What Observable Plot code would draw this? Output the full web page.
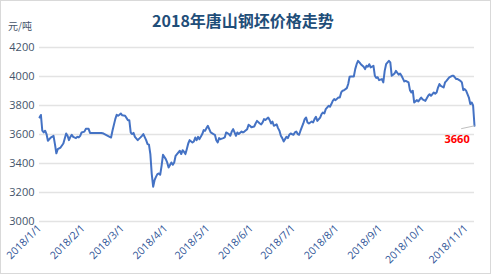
<!DOCTYPE html>
<html>
<head>
<meta charset="utf-8">
<script src="https://cdn.jsdelivr.net/npm/d3@7"></script>
<script src="https://cdn.jsdelivr.net/npm/@observablehq/plot@0.6"></script>
<style>
html, body { margin: 0; padding: 0; background: #fff; }
#wrap { position: relative; width: 493px; height: 274px; overflow: hidden; }
#frame { position: absolute; left: 0; top: 0; width: 489px; height: 272px; border: 1px solid #d9d9d9; box-sizing: content-box; }
#title { position: absolute; left: 0; width: 486px; top: 10px; text-align: center; font: bold 16px "Noto Sans CJK SC", sans-serif; color: #1f4e79; line-height: 20px; }
#unit { position: absolute; left: 8px; top: 18px; font: 10px "Noto Sans CJK SC", sans-serif; color: #44546a; }
#chart { position: absolute; left: 0; top: 0; }
</style>
</head>
<body>
<div id="wrap">
  <div id="frame"></div>
  <div id="chart"></div>
  <div id="title">2018年唐山钢坯价格走势</div>
  <div id="unit">元/吨</div>
</div>
<script>
const dates = [
"2018-01-01","2018-01-02","2018-01-03","2018-01-04","2018-01-05","2018-01-06","2018-01-07","2018-01-09","2018-01-11","2018-01-12",
"2018-01-13","2018-01-14","2018-01-16","2018-01-18","2018-01-20","2018-01-21","2018-01-22","2018-01-23","2018-01-24","2018-01-25",
"2018-01-27","2018-01-28","2018-01-29","2018-01-30","2018-01-31","2018-02-02","2018-02-03","2018-02-05","2018-02-06","2018-02-14",
"2018-02-15","2018-02-21","2018-02-22","2018-02-24","2018-02-25","2018-02-26","2018-02-27","2018-02-28","2018-03-01","2018-03-03",
"2018-03-05","2018-03-06","2018-03-07","2018-03-08","2018-03-09","2018-03-10","2018-03-12","2018-03-14","2018-03-15","2018-03-16",
"2018-03-18","2018-03-19","2018-03-20","2018-03-21","2018-03-22","2018-03-23","2018-03-24","2018-03-25","2018-03-26","2018-03-27",
"2018-03-28","2018-03-29","2018-03-30","2018-04-01","2018-04-02","2018-04-03","2018-04-05","2018-04-06","2018-04-07","2018-04-08",
"2018-04-09","2018-04-11","2018-04-12","2018-04-13","2018-04-14","2018-04-15","2018-04-16","2018-04-17","2018-04-18","2018-04-20",
"2018-04-21","2018-04-22","2018-04-23","2018-04-24","2018-04-25","2018-04-27","2018-04-28","2018-04-29","2018-04-30","2018-05-01",
"2018-05-02","2018-05-03","2018-05-05","2018-05-06","2018-05-07","2018-05-08","2018-05-09","2018-05-10","2018-05-12","2018-05-13",
"2018-05-14","2018-05-16","2018-05-17","2018-05-18","2018-05-19","2018-05-20","2018-05-21","2018-05-22","2018-05-23","2018-05-25",
"2018-05-26","2018-05-27","2018-05-29","2018-05-30","2018-05-31","2018-06-01","2018-06-03","2018-06-04","2018-06-05","2018-06-07",
"2018-06-08","2018-06-09","2018-06-10","2018-06-11","2018-06-13","2018-06-14","2018-06-15","2018-06-16","2018-06-17","2018-06-19",
"2018-06-20","2018-06-21","2018-06-22","2018-06-23","2018-06-24","2018-06-25","2018-06-26","2018-06-27","2018-06-28","2018-06-29",
"2018-07-01","2018-07-02","2018-07-03","2018-07-04","2018-07-05","2018-07-06","2018-07-08","2018-07-09","2018-07-10","2018-07-11",
"2018-07-12","2018-07-14","2018-07-15","2018-07-16","2018-07-17","2018-07-18","2018-07-20","2018-07-21","2018-07-22","2018-07-23",
"2018-07-24","2018-07-26","2018-07-27","2018-07-28","2018-07-29","2018-07-30","2018-07-31","2018-08-02","2018-08-03","2018-08-04",
"2018-08-05","2018-08-06","2018-08-08","2018-08-09","2018-08-10","2018-08-11","2018-08-13","2018-08-14","2018-08-15","2018-08-16",
"2018-08-17","2018-08-18","2018-08-20","2018-08-21","2018-08-22","2018-08-23","2018-08-24","2018-08-25","2018-08-27","2018-08-28",
"2018-08-29","2018-08-30","2018-08-31","2018-09-02","2018-09-03","2018-09-04","2018-09-05","2018-09-07","2018-09-08","2018-09-09",
"2018-09-10","2018-09-11","2018-09-12","2018-09-14","2018-09-15","2018-09-16","2018-09-17","2018-09-18","2018-09-19","2018-09-21",
"2018-09-22","2018-09-23","2018-09-24","2018-09-25","2018-09-27","2018-09-28","2018-09-29","2018-09-30","2018-10-01","2018-10-03",
"2018-10-04","2018-10-05","2018-10-06","2018-10-07","2018-10-09","2018-10-10","2018-10-11","2018-10-12","2018-10-13","2018-10-14",
"2018-10-16","2018-10-17","2018-10-18","2018-10-19","2018-10-20","2018-10-22","2018-10-23","2018-10-24","2018-10-25","2018-10-26",
"2018-10-28","2018-10-29","2018-10-30","2018-10-31","2018-11-01","2018-11-03","2018-11-04","2018-11-05","2018-11-06","2018-11-07"
];
const prices = [
3718,3735,3626,3614,3626,3603,3557,3579,3591,3534,
3470,3499,3510,3538,3607,3591,3561,3584,3598,3584,
3575,3584,3580,3591,3614,3620,3639,3639,3611,3611,
3609,3579,3626,3706,3736,3729,3736,3745,3732,3729,
3699,3699,3614,3603,3611,3584,3561,3580,3591,3603,
3561,3534,3530,3465,3327,3240,3285,3308,3327,3331,
3322,3384,3460,3430,3407,3372,3407,3391,3407,3453,
3465,3488,3465,3492,3480,3465,3500,3538,3561,3545,
3552,3579,3561,3584,3568,3603,3630,3626,3644,3660,
3637,3614,3603,3598,3561,3545,3575,3568,3575,3580,
3614,3603,3591,3620,3637,3614,3591,3614,3603,3620,
3614,3620,3637,3667,3660,3650,3655,3676,3694,3676,
3670,3683,3706,3700,3717,3700,3676,3690,3660,3670,
3644,3626,3591,3575,3552,3568,3584,3575,3598,3607,
3598,3614,3620,3603,3598,3626,3676,3706,3717,3683,
3676,3690,3683,3706,3722,3694,3717,3741,3752,3745,
3775,3798,3791,3810,3832,3844,3837,3855,3855,3890,
3902,3905,3920,3948,3998,4000,4000,4051,4085,4108,
4097,4085,4067,4051,4074,4067,4085,4063,4074,4005,
3990,3995,3975,3982,3959,4039,4085,4108,4097,4005,
4012,4020,4039,4012,4020,4005,3985,3966,3970,3959,
3906,3890,3902,3821,3837,3828,3842,3855,3842,3832,
3850,3867,3878,3867,3890,3882,3890,3924,3948,3936,
3924,3959,3970,3982,3994,4005,4005,3994,3982,3982,
3970,3959,3906,3913,3902,3855,3810,3821,3800,3660
];
const yTicks = [3000, 3200, 3400, 3600, 3800, 4000, 4200];
const xTickDates = ["2018-01-01","2018-02-01","2018-03-01","2018-04-01","2018-05-01","2018-06-01","2018-07-01","2018-08-01","2018-09-01","2018-10-01","2018-11-01"];
const xTickLabels = ["2018/1/1","2018/2/1","2018/3/1","2018/4/1","2018/5/1","2018/6/1","2018/7/1","2018/8/1","2018/9/1","2018/10/1","2018/11/1"];
const lastLabel = "3660";

const parse = d3.utcParse("%Y-%m-%d");
const data = dates.map((d, i) => ({date: parse(d), price: prices[i]}));
const xTicks = xTickDates.map(parse);
const last = data[data.length - 1];
const xFmt = (d) => xTickLabels[xTicks.findIndex(t => +t === +d)];

const chart = Plot.plot({
  width: 493,
  height: 274,
  marginTop: 47,
  marginBottom: 53,
  marginLeft: 39,
  marginRight: 19,
  style: {fontFamily: "'Open Sans', sans-serif", fontSize: "10px", color: "#44546a", background: "transparent"},
  x: {type: "utc", domain: [parse("2018-01-01"), last.date], label: null},
  y: {domain: [3000, 4200], label: null},
  marks: [
    Plot.ruleY(yTicks, {stroke: "#e3e3e3", strokeWidth: 1.3}),
    Plot.axisX({ticks: xTicks, tickFormat: xFmt, tickRotate: -45, tickSize: 0, tickPadding: 5, fill: "#2f5597", fontSize: 10.5, label: null}),
    Plot.axisY({ticks: yTicks, tickFormat: (d) => String(d), tickSize: 0, tickPadding: 5, fill: "#44546a", fontSize: 11, label: null}),
    Plot.line(data, {x: "date", y: "price", stroke: "#4472c4", strokeWidth: 2, curve: "linear"}),
    Plot.link([last], {x1: (d) => new Date(+d.date - 9.5 * 864e5), y1: (d) => d.price - 20, x2: "date", y2: "price", stroke: "#bfbfbf", strokeWidth: 1}),
    Plot.text([last], {x: (d) => new Date(+d.date - 12.4 * 864e5), y: (d) => d.price - 92, text: () => lastLabel, fill: "#ff0000", fontWeight: "bold", fontSize: 11, fontFamily: "'Open Sans', sans-serif"})
  ]
});
document.getElementById("chart").appendChild(chart);
</script>
</body>
</html>
